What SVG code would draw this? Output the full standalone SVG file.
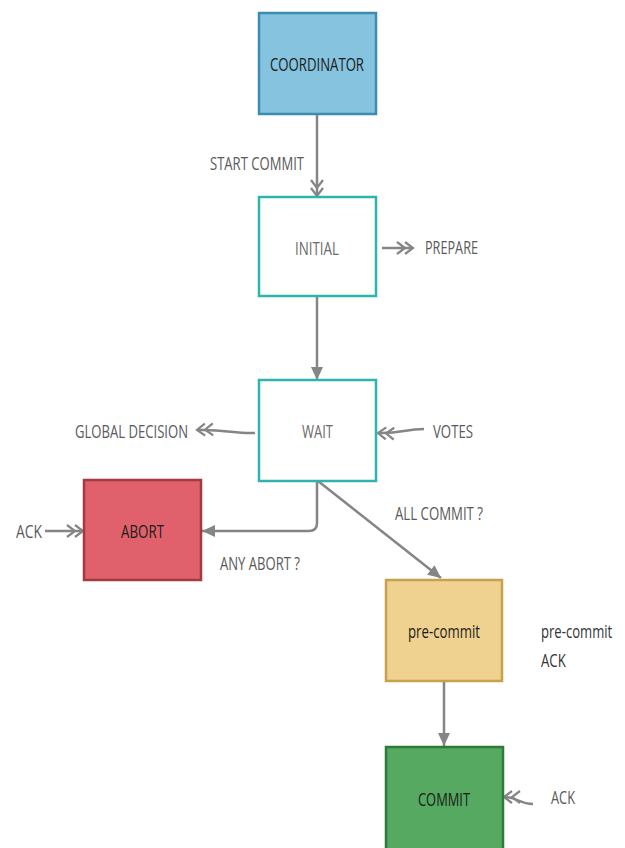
<svg xmlns="http://www.w3.org/2000/svg" width="625" height="848" viewBox="0 0 625 848">
  <style>
    .box { stroke-width: 2.5; }
    .coord { fill: #85c3de; stroke: #3a8db0; }
    .state { fill: #ffffff; stroke: #2db3b0; }
    .abort { fill: #e0616b; stroke: #a33a42; }
    .pre { fill: #f0d290; stroke: #c8a14b; }
    .commit { fill: #55a960; stroke: #2f7a37; }
    text { font-family: "Open Sans", "DejaVu Sans", sans-serif; font-size: 19px; }
    .dark { fill: #1c1c1c; }
    .mid { fill: #333333; }
    .light { fill: #6a6a6a; }
    .lbl { fill: #5a5a5a; }
    .edge { fill: none; stroke: #858585; stroke-width: 2.5; }
    .msg { marker-end: url(#chev2); }
    .trans { marker-end: url(#tri); }
  </style>
  <defs>
    <marker id="chev2" markerUnits="userSpaceOnUse" markerWidth="22" markerHeight="16" refX="0" refY="0" viewBox="-18 -8 22 16" orient="auto" overflow="visible">
      <path d="M-8,-6 L0,0 L-8,6 M-16,-6 L-8,0 L-16,6" fill="none" stroke="#858585" stroke-width="2.2"/>
    </marker>
    <marker id="tri" markerUnits="userSpaceOnUse" markerWidth="16" markerHeight="14" refX="0" refY="0" viewBox="-14 -7 16 14" orient="auto" overflow="visible">
      <path d="M-13,-6 L0,0 L-13,6 Z" fill="#858585"/>
    </marker>
  </defs>

  <g id="connectors">
    <path class="edge msg" d="M317,114 L317,196"/>
    <path class="edge msg" d="M382,248 L413,248"/>
    <path class="edge trans" d="M317,297 L317,380"/>
    <path class="edge msg" d="M255,433 C235,434 225,429 197,430"/>
    <path class="edge msg" d="M424,429 C405,429 400,434 378,433"/>
    <path class="edge trans" d="M317,481 L317,523 Q317,531 309,531 L202,531"/>
    <path class="edge msg" d="M45,531 L83,531"/>
    <path class="edge trans" d="M318,481 L441,578"/>
    <path class="edge trans" d="M444,681 L444,746"/>
    <path class="edge msg" d="M533,804 C520,804 516,797 504,797"/>
  </g>

  <g id="edge-labels">
    <text class="lbl" x="210" y="170" textLength="94" lengthAdjust="spacingAndGlyphs">START COMMIT</text>
    <text class="lbl" x="425" y="254" textLength="53" lengthAdjust="spacingAndGlyphs">PREPARE</text>
    <text class="lbl" x="75" y="438" textLength="113" lengthAdjust="spacingAndGlyphs">GLOBAL DECISION</text>
    <text class="lbl" x="433" y="438" textLength="40" lengthAdjust="spacingAndGlyphs">VOTES</text>
    <text class="lbl" x="16" y="538" textLength="26" lengthAdjust="spacingAndGlyphs">ACK</text>
    <text class="lbl" x="220" y="570" textLength="80" lengthAdjust="spacingAndGlyphs">ANY ABORT ?</text>
    <text class="lbl" x="395" y="520" textLength="88" lengthAdjust="spacingAndGlyphs">ALL COMMIT ?</text>
    <text class="mid" transform="translate(541,638) scale(0.8,1)" textLength="89" lengthAdjust="spacingAndGlyphs">pre-commit</text>
    <text class="mid" transform="translate(541,667) scale(0.8,1)" textLength="31" lengthAdjust="spacingAndGlyphs">ACK</text>
    <text class="lbl" x="551" y="804" textLength="24" lengthAdjust="spacingAndGlyphs">ACK</text>
  </g>

  <g id="coordinator">
    <rect class="box coord" x="259" y="13" width="117" height="101"/>
    <text class="dark" x="270" y="71" textLength="94" lengthAdjust="spacingAndGlyphs">COORDINATOR</text>
  </g>
  <g id="initial">
    <rect class="box state" x="259" y="197" width="117" height="99"/>
    <text class="light" x="295" y="255" textLength="44" lengthAdjust="spacingAndGlyphs">INITIAL</text>
  </g>
  <g id="wait">
    <rect class="box state" x="259" y="380" width="117" height="101"/>
    <text class="light" x="302" y="438" textLength="31" lengthAdjust="spacingAndGlyphs">WAIT</text>
  </g>
  <g id="abort">
    <rect class="box abort" x="84" y="480" width="117" height="100"/>
    <text class="dark" x="121" y="538" textLength="43" lengthAdjust="spacingAndGlyphs">ABORT</text>
  </g>
  <g id="pre-commit">
    <rect class="box pre" x="386" y="580" width="116" height="101"/>
    <text class="dark" x="408" y="638" textLength="72" lengthAdjust="spacingAndGlyphs">pre-commit</text>
  </g>
  <g id="commit">
    <rect class="box commit" x="386" y="747" width="117" height="103"/>
    <text class="dark" x="418" y="806" textLength="52" lengthAdjust="spacingAndGlyphs">COMMIT</text>
  </g>
</svg>
